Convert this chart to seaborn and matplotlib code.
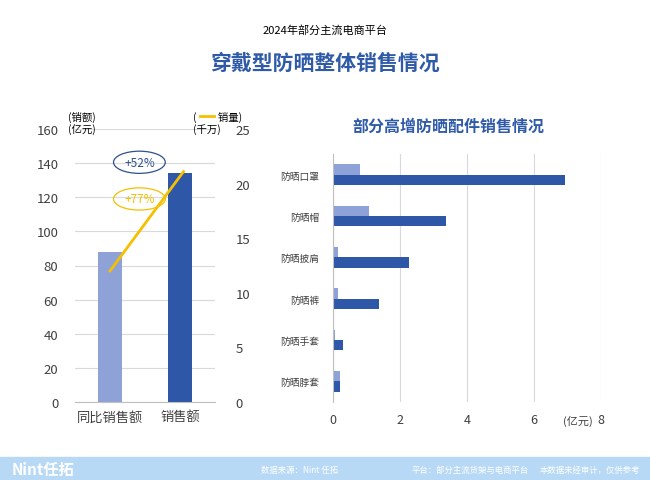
import matplotlib
matplotlib.use("Agg")
import matplotlib.pyplot as plt  # noqa: E402
import seaborn as sns  # noqa: E402
import pandas as pd  # noqa: E402
from matplotlib.patches import Ellipse, Rectangle  # noqa: E402

plt.rcParams["font.family"] = ["Noto Sans CJK SC", "DejaVu Sans"]

# Datos del panel izquierdo
bar_labels = ["同比销售额", "销售额"]
bar_values = [88, 134]        # 亿元
volume_values = [12.0, 21.1]  # 千万

# Datos del panel derecho
acc_cats = ["防晒口罩", "防晒帽", "防晒披肩", "防晒裤", "防晒手套", "防晒脖套"]
acc_prev = [0.8, 1.07, 0.15, 0.15, 0.05, 0.22]
acc_curr = [6.93, 3.37, 2.27, 1.37, 0.3, 0.22]

LIGHT = "#8ea2d8"
DARK = "#2f57a8"
W, H = 650, 481

fig = plt.figure(figsize=(6.5, 4.81), dpi=100)
fig.patch.set_facecolor("white")


def ax_at(x0, y0, x1, y1):
    return fig.add_axes([x0 / W, 1 - y1 / H, (x1 - x0) / W, (y1 - y0) / H])


fig.text(325 / W, 1 - 30 / H, "2024年部分主流电商平台", ha="center", va="center", fontsize=8)
fig.text(325 / W, 1 - 63 / H, "穿戴型防晒整体销售情况", ha="center", va="center",
         fontsize=15, fontweight="bold", color="#2f5aa8")

# ---- izquierda
ax = ax_at(75, 130, 215, 403)
df = pd.DataFrame({"cat": bar_labels, "v": bar_values})
sns.barplot(data=df, x="cat", y="v", hue="cat", palette=[LIGHT, DARK], width=0.33,
            saturation=1, legend=False, ax=ax)
ax.set_xlim(-0.5, 1.5)
ax.set_ylim(0, 160)
ax.set_yticks(range(0, 161, 20))
ax.grid(axis="y", color="#d9d9d9", lw=0.8)
ax.set_axisbelow(True)
for s in ["top", "right", "left"]:
    ax.spines[s].set_visible(False)
ax.spines["bottom"].set_color("#bfbfbf")
ax.tick_params(length=0, labelsize=9.5, colors="#404040", pad=12)
ax.tick_params(axis="x", pad=6)
ax.set_xlabel("")
ax.set_ylabel("")
fig.text(68 / W, 1 - 117 / H, "(销额)", fontsize=7.5, va="center", ha="left")
fig.text(68 / W, 1 - 130 / H, "(亿元)", fontsize=7.5, va="center", ha="left")
fig.text(193 / W, 1 - 117 / H, "(         销量)", fontsize=7.5, va="center", ha="left")
fig.text(193 / W, 1 - 130 / H, "(千万)", fontsize=7.5, va="center", ha="left")
fig.add_artist(plt.Line2D([200 / W, 214 / W], [1 - 117 / H] * 2, color="#f5c000", lw=2))

ax2 = ax.twinx()
sns.lineplot(x=[0, 1.05], y=volume_values, color="#f5c000", lw=2, ax=ax2)
ax2.set_ylim(0, 25)
ax2.set_yticks(range(0, 26, 5))
for s in ax2.spines.values():
    s.set_visible(False)
ax2.tick_params(length=0, labelsize=9.5, colors="#404040", pad=15)

ax.add_patch(Ellipse((0.42, 140.5), 0.74, 13, fill=False, ec="#2f4f8f", lw=0.9))
ax.text(0.42, 140.5, "+52%", ha="center", va="center", fontsize=8.5, color="#2f4f8f")
ax.add_patch(Ellipse((0.42, 119), 0.74, 13, fill=False, ec="#f5c000", lw=0.9))
ax.text(0.42, 119, "+77%", ha="center", va="center", fontsize=8.5, color="#f5c000")

# ---- derecha
fig.text(448 / W, 1 - 127 / H, "部分高增防晒配件销售情况", ha="center", va="center",
         fontsize=11.5, fontweight="bold", color="#2f5aa8")
axr = ax_at(333, 155, 601, 403)
long = pd.DataFrame({
    "cat": acc_cats * 2,
    "v": acc_prev + acc_curr,
    "s": ["prev"] * len(acc_cats) + ["curr"] * len(acc_cats),
})
sns.barplot(data=long, y="cat", x="v", hue="s", palette=[LIGHT, DARK], orient="h",
            width=0.5, saturation=1, legend=False, ax=axr)
axr.set_xlim(0, 8)
axr.set_xticks([0, 2, 4, 6, 8])
axr.grid(axis="x", color="#d9d9d9", lw=0.8)
axr.set_axisbelow(True)
for s in ["top", "right", "bottom"]:
    axr.spines[s].set_visible(False)
axr.spines["left"].set_color("#bfbfbf")
axr.tick_params(length=0, colors="#404040")
axr.tick_params(axis="y", labelsize=7, pad=10)
axr.tick_params(axis="x", labelsize=9, pad=8)
axr.set_xlabel("")
axr.set_ylabel("")
fig.text(578 / W, 1 - 421 / H, "(亿元)", fontsize=8, color="#404040", ha="center", va="center")

# ---- pie de página
fig.patches.append(Rectangle((0, 0), 1, 23 / H, transform=fig.transFigure,
                             color="#b8d9f5", zorder=0))
fy = 11 / H
fig.text(12 / W, fy, "Nint任拓", fontsize=11, fontweight="bold", color="white", va="center")
fig.text(300 / W, fy, "数据来源：Nint 任拓", fontsize=6, color="white", va="center", ha="center")
fig.text(470 / W, fy, "平台：部分主流货架与电商平台", fontsize=6, color="white", va="center",
         ha="center")
fig.text(590 / W, fy, "本数据未经审计，仅供参考", fontsize=6, color="white", va="center",
         ha="center")

fig.savefig("out.png", dpi=100)
